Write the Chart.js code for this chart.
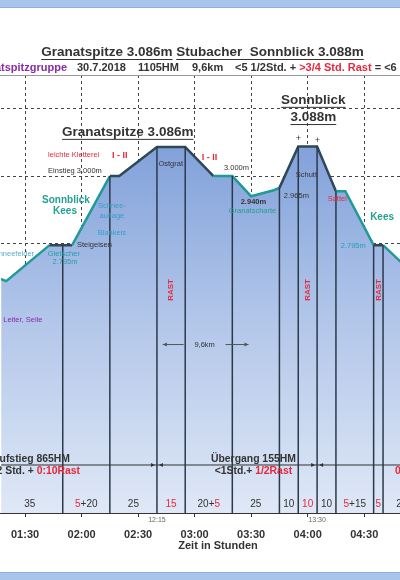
<!DOCTYPE html>
<html>
<head>
<meta charset="utf-8">
<script src="https://cdn.jsdelivr.net/npm/chart.js@4.4.0/dist/chart.umd.min.js"></script>
<style>
  html, body { margin: 0; padding: 0; background: #fff; }
  body { width: 400px; height: 580px; position: relative; overflow: hidden; }
  #wrap { position: absolute; left: 0; top: 0; width: 400px; height: 572px; }
  .band { position: absolute; left: 0; width: 400px; background: #a9c4ea; }
  #band_oben { top: 0; height: 7px; border-bottom: 1px solid #8eaede; }
  #band_unten { top: 572px; height: 8px; border-top: 1px solid #8eaede; }
</style>
</head>
<body>
<div id="wrap"><canvas id="profil"></canvas></div>
<div class="band" id="band_oben"></div>
<div class="band" id="band_unten"></div>
<script>
/************ Daten ************/
// Gehzeit in Minuten ab Start, Höhe in m
const zeit  = [72, 80, 103, 115, 135, 140, 160, 175, 190, 200, 210, 222, 225, 235, 245, 255, 260, 275, 280, 295];
const hoehe = [2705, 2688, 2795, 2795, 3000, 3000, 3086, 3086, 3000, 3000, 2940, 2958, 2965, 3088, 3088, 2955, 2955, 2795, 2795, 2716];

// senkrechte Abschnittslinien (Minuten)
const grenzen = [110, 135, 160, 175, 200, 225, 235, 245, 255, 275, 280];
// Abschnitte für die Gehzeiten unten, [..] = Rast
const abschnitte = [75, 110, 135, 160, 175, 200, 225, 235, 245, 255, 275, 280, 300];
const gehzeiten = ['35', '[5]+20', '25', '[15]', '20+[5]', '25', '10', '[10]', '10', '[5]+15', '[5]', '25'];
// Rast-Abschnitte (Mitte)
const rastZeit = [167.5, 240, 277.5];
// Uhrzeiten unter der Achse
const uhrZeit = [160, 245];
const uhrText = ['12:15', '13:30'];
// Ende Aufstieg / Übergang
const trenner = [160, 245];

// Achse
const tickZeit = [90, 120, 150, 180, 210, 240, 270];
const tickLabels = ['01:30', '02:00', '02:30', '03:00', '03:30', '04:00', '04:30'];
const hoehenLinien = [2800, 3000, 3200];

/************ Farben, Schrift ************/
const schrift = "'Liberation Sans', Arial, sans-serif";
const tuerkis = '#1f9a98';
const dunkel = '#2f4858';
const rot = '#e8283c';
const text_dunkel = '#333';
const dunkleAbschnitte = [2, 4, 5, 6, 7, 12, 13, 14, 17];

Chart.defaults.font.family = schrift;

function hoeheBei(t) {
  for (let i = 0; i < zeit.length - 1; i++) {
    if (t >= zeit[i] && t <= zeit[i + 1]) {
      const f = (t - zeit[i]) / (zeit[i + 1] - zeit[i]);
      return hoehe[i] + f * (hoehe[i + 1] - hoehe[i]);
    }
  }
  return hoehe[hoehe.length - 1];
}

function flaeche(context) {
  const {ctx, chartArea} = context.chart;
  if (!chartArea) return null;
  const g = ctx.createLinearGradient(0, chartArea.top + 60, 0, chartArea.bottom);
  g.addColorStop(0, '#7f9fd9');
  g.addColorStop(0.5, '#b3c7ea');
  g.addColorStop(1, '#dfe8f6');
  return g;
}

// Text mit roten Teilen in [..]
function teile(ctx, s, px, py, font, align, farbe) {
  ctx.font = font;
  ctx.textBaseline = 'middle';
  ctx.textAlign = 'left';
  const stuecke = s.split(/(\[[^\]]*\])/).filter(p => p !== '');
  let breite = 0;
  stuecke.forEach(p => { breite += ctx.measureText(p.replace(/[\[\]]/g, '')).width; });
  let x0 = px;
  if (align === 'center') x0 = px - breite / 2;
  if (align === 'right') x0 = px - breite;
  stuecke.forEach(p => {
    const rotTeil = p[0] === '[';
    const t = p.replace(/[\[\]]/g, '');
    ctx.fillStyle = rotTeil ? rot : (farbe || text_dunkel);
    ctx.fillText(t, x0, py);
    x0 += ctx.measureText(t).width;
  });
  return breite;
}

function unterstrichen(ctx, s, px, py, font, size) {
  ctx.font = font;
  ctx.fillStyle = text_dunkel;
  ctx.textAlign = 'center';
  ctx.textBaseline = 'middle';
  ctx.fillText(s, px, py);
  const w = ctx.measureText(s).width;
  ctx.strokeStyle = text_dunkel;
  ctx.lineWidth = 1;
  ctx.beginPath();
  ctx.moveTo(px - w / 2, py + size * 0.55);
  ctx.lineTo(px + w / 2, py + size * 0.55);
  ctx.stroke();
}

/************ Beschriftungen im Diagramm ************/
const klein = '7.5px ' + schrift;
const beschriftung = [
  {s: 'leichte Kletterei', t: 102.2, h: 3062, c: rot, f: klein, a: 'left'},
  {s: 'I - II', t: 140.3, h: 3062, c: rot, f: 'bold 9px ' + schrift},
  {s: 'Einstieg 3.000m', t: 102.2, h: 3015, c: text_dunkel, f: klein, a: 'left'},
  {s: 'Sonnblick', t: 111.7, h: 2929, c: '#23a08f', f: 'bold 10px ' + schrift},
  {s: 'Kees', t: 111.2, h: 2896, c: '#23a08f', f: 'bold 10px ' + schrift},
  {s: 'Schnee-', t: 136.1, h: 2911, c: '#3a9ec0', f: klein},
  {s: 'auflage', t: 136.1, h: 2881, c: '#3a9ec0', f: klein},
  {s: 'Blankeis', t: 136.1, h: 2831, c: '#3a9ec0', f: klein},
  {s: 'Steigeisen', t: 117.5, h: 2795, c: text_dunkel, f: klein, a: 'left'},
  {s: 'Gletscher', t: 110.6, h: 2769, c: '#25a0a8', f: klein},
  {s: '2.795m', t: 111.2, h: 2745, c: '#25a0a8', f: klein},
  {s: 'Schneefelder', t: 94.8, h: 2769, c: '#5aaed0', f: klein, a: 'right'},
  {s: 'Leiter, Seile', t: 78.4, h: 2573, c: '#8a2ba8', f: klein, a: 'left'},
  {s: 'Ostgrat', t: 167.3, h: 3036, c: text_dunkel, f: klein},
  {s: 'I - II', t: 187.9, h: 3054, c: rot, f: 'bold 9px ' + schrift},
  {s: '3.000m', t: 202.2, h: 3024, c: text_dunkel, f: klein},
  {s: '2.940m', t: 211.2, h: 2923, c: text_dunkel, f: 'bold 7.5px ' + schrift},
  {s: 'Granatscharte', t: 210.7, h: 2896, c: '#23a08f', f: klein},
  {s: '2.965m', t: 234, h: 2940, c: text_dunkel, f: klein},
  {s: 'Schutt', t: 239.3, h: 3003, c: text_dunkel, f: klein},
  {s: '+', t: 235.1, h: 3110, c: text_dunkel, f: '9px ' + schrift},
  {s: '+', t: 245.1, h: 3107, c: text_dunkel, f: '9px ' + schrift},
  {s: 'Sattel', t: 255.7, h: 2932, c: rot, f: klein},
  {s: 'Kees', t: 279.5, h: 2878, c: '#23a08f', f: 'bold 10px ' + schrift},
  {s: '2.795m', t: 264.2, h: 2792, c: '#25a0b0', f: klein}
];

const profilPlugin = {
  id: 'profil',
  afterDatasetsDraw(chart) {
    const {ctx, chartArea: a, scales: {x, y}} = chart;
    const X = v => x.getPixelForValue(v);
    const Y = v => y.getPixelForValue(v);
    ctx.save();

    // Abschnittslinien
    ctx.strokeStyle = '#2b3a4a';
    ctx.lineWidth = 1.5;
    grenzen.forEach(t => {
      ctx.beginPath();
      ctx.moveTo(X(t), Y(hoeheBei(t)));
      ctx.lineTo(X(t), a.bottom);
      ctx.stroke();
    });

    // Trennlinie Aufstieg / Übergang
    const sepY = Y(2142.5);
    ctx.strokeStyle = '#333';
    ctx.lineWidth = 1;
    ctx.beginPath();
    ctx.moveTo(a.left, sepY);
    ctx.lineTo(a.right, sepY);
    ctx.stroke();
    ctx.fillStyle = '#333';
    trenner.forEach(t => {
      const px = X(t);
      ctx.beginPath();
      ctx.moveTo(px - 6, sepY - 2); ctx.lineTo(px - 2, sepY); ctx.lineTo(px - 6, sepY + 2);
      ctx.fill();
      ctx.beginPath();
      ctx.moveTo(px + 6, sepY - 2); ctx.lineTo(px + 2, sepY); ctx.lineTo(px + 6, sepY + 2);
      ctx.fill();
    });

    const b10 = 'bold 10.4px ' + schrift;
    teile(ctx, 'Aufstieg 865HM', 70, sepY - 6, b10, 'right');
    teile(ctx, '<2 Std. + [0:10Rast]', 80, sepY + 6, b10, 'right');
    teile(ctx, 'Übergang 155HM', X(211.2), sepY - 6, b10, 'center');
    teile(ctx, '<1Std.+ [1/2Rast]', X(211.2), sepY + 6, b10, 'center');
    teile(ctx, '[0:05Rast]', 395, sepY + 6, b10, 'left');

    // Gehzeiten
    for (let i = 0; i < gehzeiten.length; i++) {
      const m = (abschnitte[i] + abschnitte[i + 1]) / 2;
      teile(ctx, gehzeiten[i], X(m), a.bottom - 9, '10px ' + schrift, 'center', '#333');
    }

    // RAST senkrecht
    ctx.fillStyle = rot;
    ctx.font = 'bold 8px ' + schrift;
    ctx.textAlign = 'center';
    ctx.textBaseline = 'middle';
    rastZeit.forEach(t => {
      ctx.save();
      ctx.translate(X(t), Y(2662));
      ctx.rotate(-Math.PI / 2);
      ctx.fillText('RAST', 0, 0);
      ctx.restore();
    });

    // 9,6km mit Pfeilen
    const kmY = Y(2500);
    ctx.strokeStyle = '#555';
    ctx.fillStyle = '#555';
    ctx.lineWidth = 1;
    const pfeil = (x1, x2) => {
      ctx.beginPath(); ctx.moveTo(x1, kmY); ctx.lineTo(x2, kmY); ctx.stroke();
      const d = x2 > x1 ? -4 : 4;
      ctx.beginPath(); ctx.moveTo(x2, kmY); ctx.lineTo(x2 + d, kmY - 2); ctx.lineTo(x2 + d, kmY + 2); ctx.fill();
    };
    pfeil(X(174.2), X(163.1));
    pfeil(X(196.4), X(208.6));
    teile(ctx, '9,6km', X(185.3), kmY, '7.5px ' + schrift, 'center', '#333');

    // Beschriftungen
    beschriftung.forEach(b => {
      ctx.font = b.f;
      ctx.fillStyle = b.c;
      ctx.textAlign = b.a || 'center';
      ctx.textBaseline = 'middle';
      ctx.fillText(b.s, X(b.t), Y(b.h));
    });

    const b135 = 'bold 13.5px ' + schrift;
    unterstrichen(ctx, 'Granatspitze 3.086m', X(144.5), Y(3131), b135, 13.5);
    unterstrichen(ctx, 'Sonnblick', X(243), Y(3226), b135, 13.5);
    unterstrichen(ctx, '3.088m', X(243), Y(3175), b135, 13.5);

    ctx.restore();
  },
  afterDraw(chart) {
    const {ctx, chartArea: a, scales: {x}} = chart;
    ctx.save();
    // Rahmenlinien oben / unten
    ctx.lineWidth = 1;
    ctx.strokeStyle = '#9a9a9a';
    ctx.beginPath(); ctx.moveTo(0, a.top + 0.5); ctx.lineTo(400, a.top + 0.5); ctx.stroke();
    ctx.strokeStyle = '#333';
    ctx.beginPath(); ctx.moveTo(0, a.bottom + 0.5); ctx.lineTo(400, a.bottom + 0.5); ctx.stroke();

    // Uhrzeiten
    ctx.font = '7px ' + schrift;
    ctx.fillStyle = '#666';
    ctx.textAlign = 'center';
    ctx.textBaseline = 'middle';
    uhrZeit.forEach((t, i) => ctx.fillText(uhrText[i], x.getPixelForValue(t), a.bottom + 7));

    // Achsentitel
    ctx.font = 'bold 11px ' + schrift;
    ctx.fillStyle = text_dunkel;
    ctx.fillText('Zeit in Stunden', 218, 546);

    // Titel
    const tf = 'bold 13.5px ' + schrift;
    ctx.font = tf;
    const t1 = 'Granatspitze 3.086m', t2 = 'Stubacher  Sonnblick 3.088m';
    const w1 = ctx.measureText(t1).width, w2 = ctx.measureText(t2).width, ws = ctx.measureText(' ').width;
    const x0 = 202.5 - (w1 + ws + w2) / 2;
    ctx.textAlign = 'left';
    ctx.fillText(t1, x0, 52);
    ctx.fillText(t2, x0 + w1 + ws, 52);
    ctx.strokeStyle = text_dunkel;
    ctx.beginPath();
    ctx.moveTo(x0, 59.5); ctx.lineTo(x0 + w1, 59.5);
    ctx.moveTo(x0 + w1 + ws, 59.5); ctx.lineTo(x0 + w1 + ws + w2, 59.5);
    ctx.stroke();

    // Untertitel
    const sf = 'bold 11px ' + schrift;
    ctx.font = sf;
    ctx.fillStyle = '#8a2ba8';
    ctx.textAlign = 'right';
    ctx.fillText('Granatspitzgruppe', 67, 68);
    teile(ctx, '30.7.2018', 77, 68, sf, 'left');
    teile(ctx, '1105HM', 138, 68, sf, 'left');
    teile(ctx, '9,6km', 192, 68, sf, 'left');
    teile(ctx, '<5 1/2Std. + [>3/4 Std. Rast] = <6 1/4 Std.', 235, 68, sf, 'left');
    ctx.restore();
  }
};

/************ Diagramm ************/
const canvas = document.getElementById('profil');
const punkte = zeit.map((t, i) => ({x: t, y: hoehe[i]}));

const config = {
  type: 'line',
  data: {
    datasets: [{
      // Linie mit Abschnittsfarben
      label: 'Höhenprofil',
      data: punkte,
      fill: false,
      borderColor: tuerkis,
      borderWidth: 2.5,
      pointRadius: 0,
      tension: 0,
      order: 0,
      segment: {
        borderColor: c => dunkleAbschnitte.includes(c.p0DataIndex) ? dunkel : tuerkis
      }
    }, {
      // Fläche darunter
      label: 'Fläche',
      data: punkte,
      fill: 'start',
      backgroundColor: flaeche,
      borderWidth: 0,
      pointRadius: 0,
      tension: 0,
      order: 1
    }]
  },
  options: {
    responsive: true,
    maintainAspectRatio: false,
    animation: false,
    layout: { padding: {top: 75, left: 0, right: 0, bottom: 0} },
    plugins: {
      legend: { display: false },
      tooltip: { enabled: false }
    },
    scales: {
      x: {
        type: 'linear',
        min: 77.3,
        max: 289,
        afterBuildTicks: s => { s.ticks = tickZeit.map(v => ({value: v})); },
        afterFit: s => { s.height = 59; },
        ticks: {
          callback: v => tickLabels[tickZeit.indexOf(v)],
          font: {size: 11, weight: 'bold'},
          color: '#333',
          padding: 11,
          maxRotation: 0,
          autoSkip: false
        },
        grid: { color: '#444', lineWidth: 1, tickLength: 4, tickColor: '#333', tickBorderDash: [] },
        border: { display: false, dash: [3, 3] }
      },
      y: {
        min: 2000,
        max: 3300,
        afterBuildTicks: s => { s.ticks = hoehenLinien.map(v => ({value: v})); },
        afterFit: s => { s.width = 0; },
        ticks: { display: false },
        grid: { color: '#444', lineWidth: 1, drawTicks: false },
        border: { display: false, dash: [3, 3] }
      }
    }
  },
  plugins: [profilPlugin]
};

new Chart(canvas, config);
</script>
</body>
</html>
